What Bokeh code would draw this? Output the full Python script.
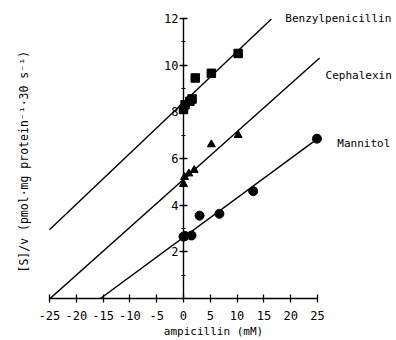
from bokeh.plotting import figure
from bokeh.models import LinearAxis, FixedTicker, ColumnDataSource, Title
from bokeh.core.properties import value
from bokeh.embed import file_html
from bokeh.resources import INLINE

# ---- data ----
x_ticks = [-25, -20, -15, -10, -5, 0, 5, 10, 15, 20, 25]
x_tick_labels = ["-25", "-20", "-15", "-10", "-5", "0", "5", "10", "15", "20", "25"]
y_ticks = [2, 4, 6, 8, 10, 12]
y_tick_labels = ["2", "4", "6", "8", "10", "12"]
y_minor = [1, 3, 5, 7, 9, 11]

benzyl_x = [0.0, 0.3, 1.2, 1.6, 2.2, 5.2, 10.2]
benzyl_y = [8.1, 8.3, 8.45, 8.55, 9.45, 9.65, 10.5]
cepha_x = [0.0, 0.2, 1.0, 2.0, 5.2, 10.2]
cepha_y = [4.9, 5.2, 5.35, 5.5, 6.6, 7.0]
manni_x = [0.0, 0.3, 1.5, 3.0, 6.7, 13.0, 24.9]
manni_y = [2.65, 2.68, 2.7, 3.55, 3.63, 4.6, 6.85]

# fitted lines: intercept, slope, x range
line_names = ["Benzylpenicillin", "Cephalexin", "Mannitol"]
line_intercept = [8.4, 5.1, 2.62]
line_slope = [0.218, 0.205, 0.169]
line_x0 = [-25.0, -24.9, -15.5]
line_x1 = [16.4, 25.4, 24.9]

label_x = [19.0, 26.5, 28.7]
label_y = [12.0, 9.56, 6.64]

FONT = "DejaVu Sans Mono"

p = figure(width=396, height=340, x_range=(-28.54, 39.74), y_range=(0, 12.77),
           output_backend="svg", toolbar_location=None,
           x_axis_location=None, y_axis_location=None,
           min_border_left=30, min_border_right=0, min_border_top=0,
           min_border_bottom=42)
p.grid.visible = False
p.outline_line_color = None
p.background_fill_color = "white"
p.border_fill_color = "white"

# regression lines
for a, b, x0, x1 in zip(line_intercept, line_slope, line_x0, line_x1):
    xs = [x0, x1]
    ys = [a + b * x for x in xs]
    p.line(xs, ys, line_color="black", line_width=1.4)

p.scatter(benzyl_x, benzyl_y, marker="square", size=8.5, color="black")
p.scatter(cepha_x, cepha_y, marker="triangle", size=8, color="black")
p.scatter(manni_x, manni_y, marker="circle", size=9, color="black")

src = ColumnDataSource(dict(x=label_x, y=label_y, t=line_names))
p.text(x="x", y="y", text="t", source=src, text_font=value(FONT),
       text_font_size="11px", text_baseline="middle", text_align="left",
       text_color="black")

# axes
xaxis = LinearAxis(ticker=FixedTicker(ticks=x_ticks, minor_ticks=[]), bounds=(-25, 25),
                   axis_label="ampicillin (mM)")
xaxis.major_label_overrides = {t: l for t, l in zip(x_ticks, x_tick_labels)}
p.add_layout(xaxis, "below")

yaxis = LinearAxis(ticker=FixedTicker(ticks=y_ticks, minor_ticks=y_minor), bounds=(0, 12),
                   fixed_location=0)
yaxis.major_label_overrides = {t: l for t, l in zip(y_ticks, y_tick_labels)}
p.add_layout(yaxis, "left")

ytitle = Title(text="[S]/v (pmol·mg protein⁻¹·30 s⁻¹)", align="left", offset=26,
               text_font=FONT, text_font_style="normal", text_font_size="11.5px",
               text_color="black", standoff=0)
p.add_layout(ytitle, "left")

for ax in (xaxis, yaxis):
    ax.axis_line_color = "black"
    ax.axis_line_width = 1.4
    ax.major_tick_line_color = "black"
    ax.major_tick_line_width = 1.3
    ax.major_tick_in = 4
    ax.major_tick_out = 4
    ax.major_label_text_font = FONT
    ax.major_label_text_font_size = "12px"
    ax.major_label_text_color = "black"
    ax.axis_label_text_font = FONT
    ax.axis_label_text_font_style = "normal"
    ax.axis_label_text_font_size = "11px"
    ax.axis_label_text_color = "black"

xaxis.major_label_standoff = 8
xaxis.axis_label_standoff = 2
xaxis.minor_tick_line_color = None
yaxis.major_label_standoff = 1
yaxis.minor_tick_line_color = "black"
yaxis.minor_tick_line_width = 1.2
yaxis.minor_tick_in = 2
yaxis.minor_tick_out = 2

open("out.html", "w").write(file_html(p, INLINE))
